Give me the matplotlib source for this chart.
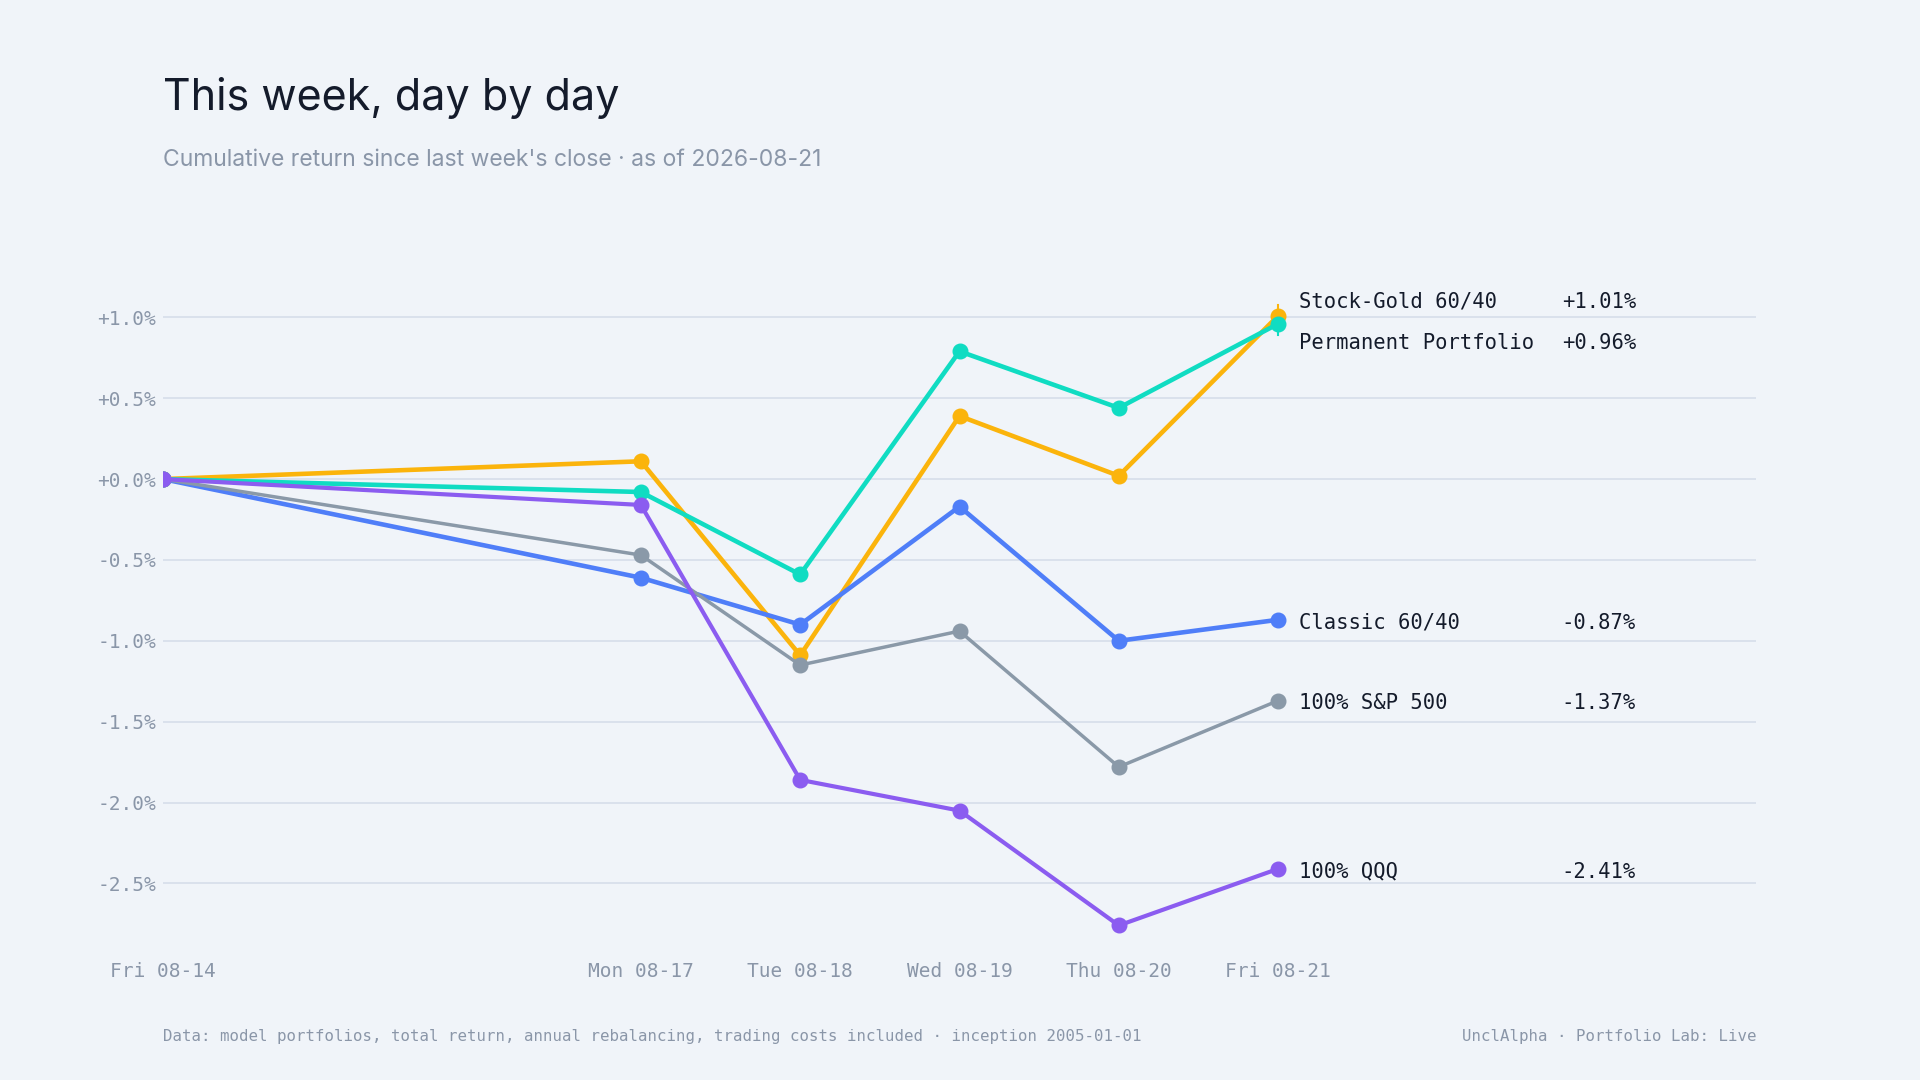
import matplotlib
matplotlib.use("Agg")
import matplotlib.pyplot as plt
import matplotlib.dates as mdates
import numpy as np
from datetime import date

# --- data (cumulative return, %) ---
days = [date(2026, 8, 14), date(2026, 8, 17), date(2026, 8, 18),
        date(2026, 8, 19), date(2026, 8, 20), date(2026, 8, 21)]
day_labels = ["Fri 08-14", "Mon 08-17", "Tue 08-18", "Wed 08-19", "Thu 08-20", "Fri 08-21"]

names = ["Stock-Gold 60/40", "Permanent Portfolio", "Classic 60/40", "100% S&P 500", "100% QQQ"]
stock_gold = [0.0, 0.11, -1.09, 0.39, 0.02, 1.01]
permanent = [0.0, -0.08, -0.59, 0.79, 0.44, 0.96]
classic = [0.0, -0.61, -0.90, -0.17, -1.00, -0.87]
sp500 = [0.0, -0.47, -1.15, -0.94, -1.78, -1.37]
qqq = [0.0, -0.16, -1.86, -2.05, -2.76, -2.41]
series = [stock_gold, permanent, classic, sp500, qqq]

colors = ["#fbb40c", "#10dcc2", "#4f7ef8", "#8a99a8", "#8b5cf0"]
widths = [3.3, 3.3, 3.3, 2.5, 3.0]

bg = "#f0f4f9"
grid_c = "#d8dfeb"
muted = "#8a96a8"
ink = "#141b2b"
mono = "DejaVu Sans Mono"
sans = ["Inter", "DejaVu Sans"]

fig = plt.figure(figsize=(19.2, 10.8), dpi=100, facecolor=bg)
ax = fig.add_axes([163 / 1920, 1 - 940 / 1080, 1593 / 1920, 655 / 1080])
ax.set_facecolor(bg)

x = mdates.date2num(days)
order = [3, 4, 2, 1, 0]  # draw grey first, gold on top
for i in order:
    ax.plot(x, series[i], color=colors[i], lw=widths[i], marker="o", ms=10.5,
            solid_joinstyle="round", solid_capstyle="round", zorder=3 + i * 0.1)

ax.set_xlim(mdates.date2num(date(2026, 8, 14)), mdates.date2num(date(2026, 8, 24)))
ax.set_ylim(-2.85, 1.2)

yt = [1.0, 0.5, 0.0, -0.5, -1.0, -1.5, -2.0, -2.5]
ax.set_yticks(yt)
ax.set_yticklabels([f"{v:+.1f}%" for v in yt], family=mono, fontsize=14, color=muted)
ax.set_xticks(x)
ax.set_xticklabels(day_labels, family=mono, fontsize=14, color=muted)
ax.tick_params(axis="y", length=0, pad=5)
ax.tick_params(axis="x", length=0, pad=16)
ax.grid(axis="y", color=grid_c, lw=1.3, zorder=0)
ax.grid(axis="x", visible=False)
for s in ax.spines.values():
    s.set_visible(False)

# end labels, nudged apart where they collide
finals = [s[-1] for s in series]
label_y = list(finals)
min_gap = 0.258
idx = sorted(range(len(finals)), key=lambda k: -finals[k])
for a, b in zip(idx, idx[1:]):
    if label_y[a] - label_y[b] < min_gap:
        mid = (label_y[a] + label_y[b]) / 2
        label_y[a] = mid + min_gap / 2
        label_y[b] = mid - min_gap / 2

trans = ax.get_yaxis_transform()
for i, name in enumerate(names):
    if abs(label_y[i] - finals[i]) > 1e-6:
        ax.plot([x[-1], x[-1]], [finals[i], finals[i] + (label_y[i] - finals[i]) * 0.65],
                color=colors[i], lw=1.5, zorder=2)
    ax.annotate(name, (x[-1], label_y[i]), xytext=(15, -2), textcoords="offset points",
                va="center", ha="left", family=mono, fontsize=14.8, color=ink)
    ax.annotate(f"{finals[i]:+.2f}%", (0.9247, label_y[i]), xycoords=trans,
                xytext=(0, -2), textcoords="offset points",
                va="center", ha="right", family=mono, fontsize=14.8, color=ink)

fig.text(163 / 1920, 1 - 110 / 1080, "This week, day by day", family=sans,
         fontsize=31, color=ink, va="baseline", ha="left")
fig.text(163 / 1920, 1 - 166 / 1080,
         "Cumulative return since last week's close \u00b7 as of 2026-08-21",
         family=sans, fontsize=16.5, color=muted, va="baseline", ha="left")
fig.text(163 / 1920, 1 - 1036 / 1080,
         "Data: model portfolios, total return, annual rebalancing, trading costs included \u00b7 inception 2005-01-01",
         family=mono, fontsize=11.3, color=muted, va="center", ha="left")
fig.text(1756 / 1920, 1 - 1036 / 1080, "UnclAlpha \u00b7 Portfolio Lab: Live",
         family=mono, fontsize=11.3, color=muted, va="center", ha="right")

fig.savefig("out.png", dpi=100, facecolor=bg)
